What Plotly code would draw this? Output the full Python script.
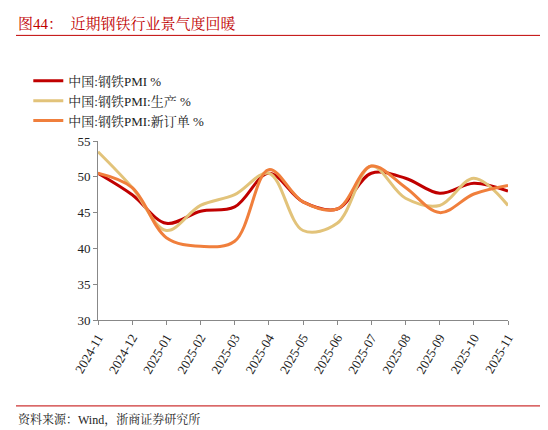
import plotly.graph_objects as go

months = ["2024-11", "2024-12", "2025-01", "2025-02", "2025-03", "2025-04", "2025-05",
          "2025-06", "2025-07", "2025-08", "2025-09", "2025-10", "2025-11"]
pmi = [50.5, 47.5, 43.5, 45.2, 45.8, 50.5, 46.5, 45.5, 50.5, 49.8, 47.7, 49.1, 48.0]
production = [53.5, 48.5, 42.5, 46.0, 47.5, 50.5, 42.5, 43.5, 51.5, 47.0, 46.0, 49.8, 46.0]
new_orders = [50.5, 48.5, 41.5, 40.3, 41.0, 51.0, 46.5, 45.5, 51.5, 48.5, 45.0, 47.6, 48.8]

font = "Liberation Serif, Noto Serif CJK SC, Noto Sans CJK SC"
fig = go.Figure()
series = [
    ("中国:钢铁PMI %", pmi, "#c00000"),
    ("中国:钢铁PMI:生产 %", production, "#e2c37a"),
    ("中国:钢铁PMI:新订单 %", new_orders, "#f07f3c"),
]
for name, vals, color in series:
    fig.add_trace(go.Scatter(x=months, y=vals, name=name, mode="lines",
                             line=dict(color=color, width=3, shape="spline", smoothing=1.0)))

fig.update_layout(
    width=548, height=430,
    paper_bgcolor="white", plot_bgcolor="white",
    margin=dict(l=90, r=48, t=133, b=118, autoexpand=False),
    font=dict(family=font, size=13, color="#222"),
    showlegend=True,
    legend=dict(orientation="h", x=-0.17, y=1.42, xanchor="left", yanchor="top",
                font=dict(size=13), entrywidth=210, entrywidthmode="pixels", tracegroupgap=0),
    xaxis=dict(type="category", tickangle=-60, showline=True, linecolor="#888",
               ticks="outside", ticklen=4, tickcolor="#888", tickfont=dict(size=13)),
    yaxis=dict(range=[30, 55], dtick=5, showgrid=False, showline=True, linecolor="#888",
               ticks="outside", ticklen=4, tickcolor="#888", tickfont=dict(size=13)),
    shapes=[
        dict(type="line", xref="paper", yref="paper", x0=-0.2, x1=1.1, y0=1.59, y1=1.59,
             line=dict(color="#c00000", width=1)),
        dict(type="line", xref="paper", yref="paper", x0=-0.2, x1=1.1, y0=-0.48, y1=-0.48,
             line=dict(color="#c00000", width=1)),
    ],
    annotations=[
        dict(text="图44：  近期钢铁行业景气度回暖", xref="paper", yref="paper", x=-0.2, y=1.60,
             xanchor="left", yanchor="bottom", showarrow=False,
             font=dict(size=15, color="#c00000", family=font)),
        dict(text="资料来源：Wind，浙商证券研究所", xref="paper", yref="paper", x=-0.2, y=-0.50,
             xanchor="left", yanchor="top", showarrow=False,
             font=dict(size=12, color="#222", family=font)),
    ],
)

fig.write_html("out.html")
